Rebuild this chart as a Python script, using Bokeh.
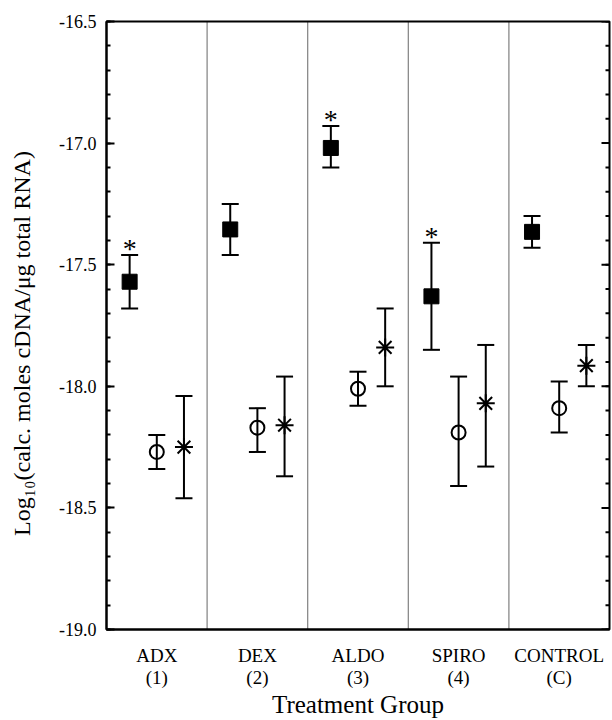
import math
from bokeh.plotting import figure
from bokeh.models import (ColumnDataSource, Whisker, TeeHead, Span, FixedTicker,
                          PrintfTickFormatter, Range1d)
from bokeh.core.properties import value
from bokeh.embed import file_html
from bokeh.resources import INLINE

# ---- data ----
groups = ["ADX", "DEX", "ALDO", "SPIRO", "CONTROL"]
group_codes = ["(1)", "(2)", "(3)", "(4)", "(C)"]
group_pos = [1, 2, 3, 4, 5]

# filled squares
sq_mean = [-17.57, -17.355, -17.02, -17.63, -17.365]
sq_lower = [-17.68, -17.46, -17.10, -17.85, -17.43]
sq_upper = [-17.46, -17.25, -16.93, -17.41, -17.30]
sq_sig = [True, False, True, True, False]

# open circles
ci_mean = [-18.27, -18.17, -18.01, -18.19, -18.09]
ci_lower = [-18.34, -18.27, -18.08, -18.41, -18.19]
ci_upper = [-18.20, -18.09, -17.94, -17.96, -17.98]

# asterisks
st_mean = [-18.25, -18.16, -17.84, -18.07, -17.915]
st_lower = [-18.46, -18.37, -18.00, -18.33, -18.00]
st_upper = [-18.04, -17.96, -17.68, -17.83, -17.83]

y_ticks = [-19.0, -18.5, -18.0, -17.5, -17.0, -16.5]
y_minor = [round(-19.0 + 0.1 * i, 1) for i in range(26)]

y_title = "Log\u2081\u2080(calc. moles cDNA/\u03bcg total RNA)"
x_title = "Treatment Group"

FONT = "Liberation Serif"
X_LO, X_HI = 0.5, 5.5

p = figure(frame_width=503, frame_height=608,
           x_range=Range1d(X_LO, X_HI), y_range=Range1d(-19.0, -16.5),
           output_backend="svg", toolbar_location=None,
           min_border_left=106, min_border_right=2,
           min_border_top=21, min_border_bottom=84,
           background_fill_color="white", border_fill_color="white")

p.xgrid.visible = False
p.ygrid.visible = False
p.outline_line_color = "black"
p.outline_line_width = 2

# x axis
p.xaxis.ticker = FixedTicker(ticks=group_pos)
p.xaxis.major_label_overrides = {g: f"{n}\n{c}" for g, n, c in zip(group_pos, groups, group_codes)}
p.xaxis.major_tick_in = 0
p.xaxis.major_tick_out = 0
p.xaxis.minor_tick_line_color = None
p.xaxis.axis_line_width = 2
p.xaxis.major_label_text_font = FONT
p.xaxis.major_label_text_font_size = "19px"
p.xaxis.major_label_text_line_height = 1.05
p.xaxis.major_label_text_color = "black"
p.xaxis.major_label_standoff = 15
p.xaxis.axis_label = x_title
p.xaxis.axis_label_text_font = FONT
p.xaxis.axis_label_text_font_size = "25px"
p.xaxis.axis_label_text_font_style = "normal"
p.xaxis.axis_label_text_color = "black"
p.xaxis.axis_label_standoff = 0

# y axis
p.yaxis.ticker = FixedTicker(ticks=y_ticks, minor_ticks=y_minor)
p.yaxis.formatter = PrintfTickFormatter(format="%.1f")
p.yaxis.major_tick_in = 8
p.yaxis.major_tick_out = 0
p.yaxis.minor_tick_in = 4
p.yaxis.minor_tick_out = 0
p.yaxis.major_tick_line_width = 2
p.yaxis.minor_tick_line_width = 2
p.yaxis.axis_line_width = 2
p.yaxis.major_label_text_font = FONT
p.yaxis.major_label_text_font_size = "18px"
p.yaxis.major_label_text_color = "black"
p.yaxis.major_label_standoff = 10
# trailing no-break spaces nudge the centred title slightly downward, as in the original
p.yaxis.axis_label = y_title + "\u00a0" * 6
p.yaxis.axis_label_text_font = FONT
p.yaxis.axis_label_text_font_size = "24px"
p.yaxis.axis_label_text_font_style = "normal"
p.yaxis.axis_label_text_color = "black"
p.yaxis.axis_label_standoff = 21

# inward tick marks on the right frame edge
p.scatter(x=[X_HI] * len(y_ticks), y=y_ticks, marker="dash", size=16,
          line_color="black", line_width=2)
p.scatter(x=[X_HI] * len(y_minor), y=y_minor, marker="dash", size=8,
          line_color="black", line_width=2)

# dotted dividers between groups
for b in [g + 0.5 for g in group_pos[:-1]]:
    p.add_layout(Span(location=b, dimension="height", line_color="black",
                      line_width=1.2, line_dash="1 1"))

OFF = 0.27

def series(mean, lower, upper, dx):
    return ColumnDataSource(dict(x=[g + dx for g in group_pos], y=mean,
                                 lower=lower, upper=upper))

src_sq = series(sq_mean, sq_lower, sq_upper, -OFF)
src_ci = series(ci_mean, ci_lower, ci_upper, 0.0)
src_st = series(st_mean, st_lower, st_upper, OFF)

for src in (src_sq, src_ci, src_st):
    w = Whisker(source=src, base="x", upper="upper", lower="lower", dimension="height",
                line_color="black", line_width=2,
                upper_head=TeeHead(size=17, line_width=2, line_color="black"),
                lower_head=TeeHead(size=17, line_width=2, line_color="black"))
    p.add_layout(w)

p.scatter("x", "y", source=src_sq, marker="square", size=15,
          fill_color="black", line_color="black")
p.scatter("x", "y", source=src_ci, marker="circle", size=14,
          fill_color=None, line_color="black", line_width=2)
p.scatter("x", "y", source=src_st, marker="asterisk", size=18, angle=math.pi / 2,
          line_color="black", line_width=2)

# significance marks
sig_src = ColumnDataSource(dict(
    x=[g - OFF for g, s in zip(group_pos, sq_sig) if s],
    y=[u + 0.025 for u, s in zip(sq_upper, sq_sig) if s],
    t=["*" for s in sq_sig if s]))
p.text("x", "y", text="t", source=sig_src, text_align="center",
       text_baseline="alphabetic", text_font=value(FONT), text_font_size="28px",
       text_color="black")

open("out.html", "w").write(file_html(p, INLINE))
